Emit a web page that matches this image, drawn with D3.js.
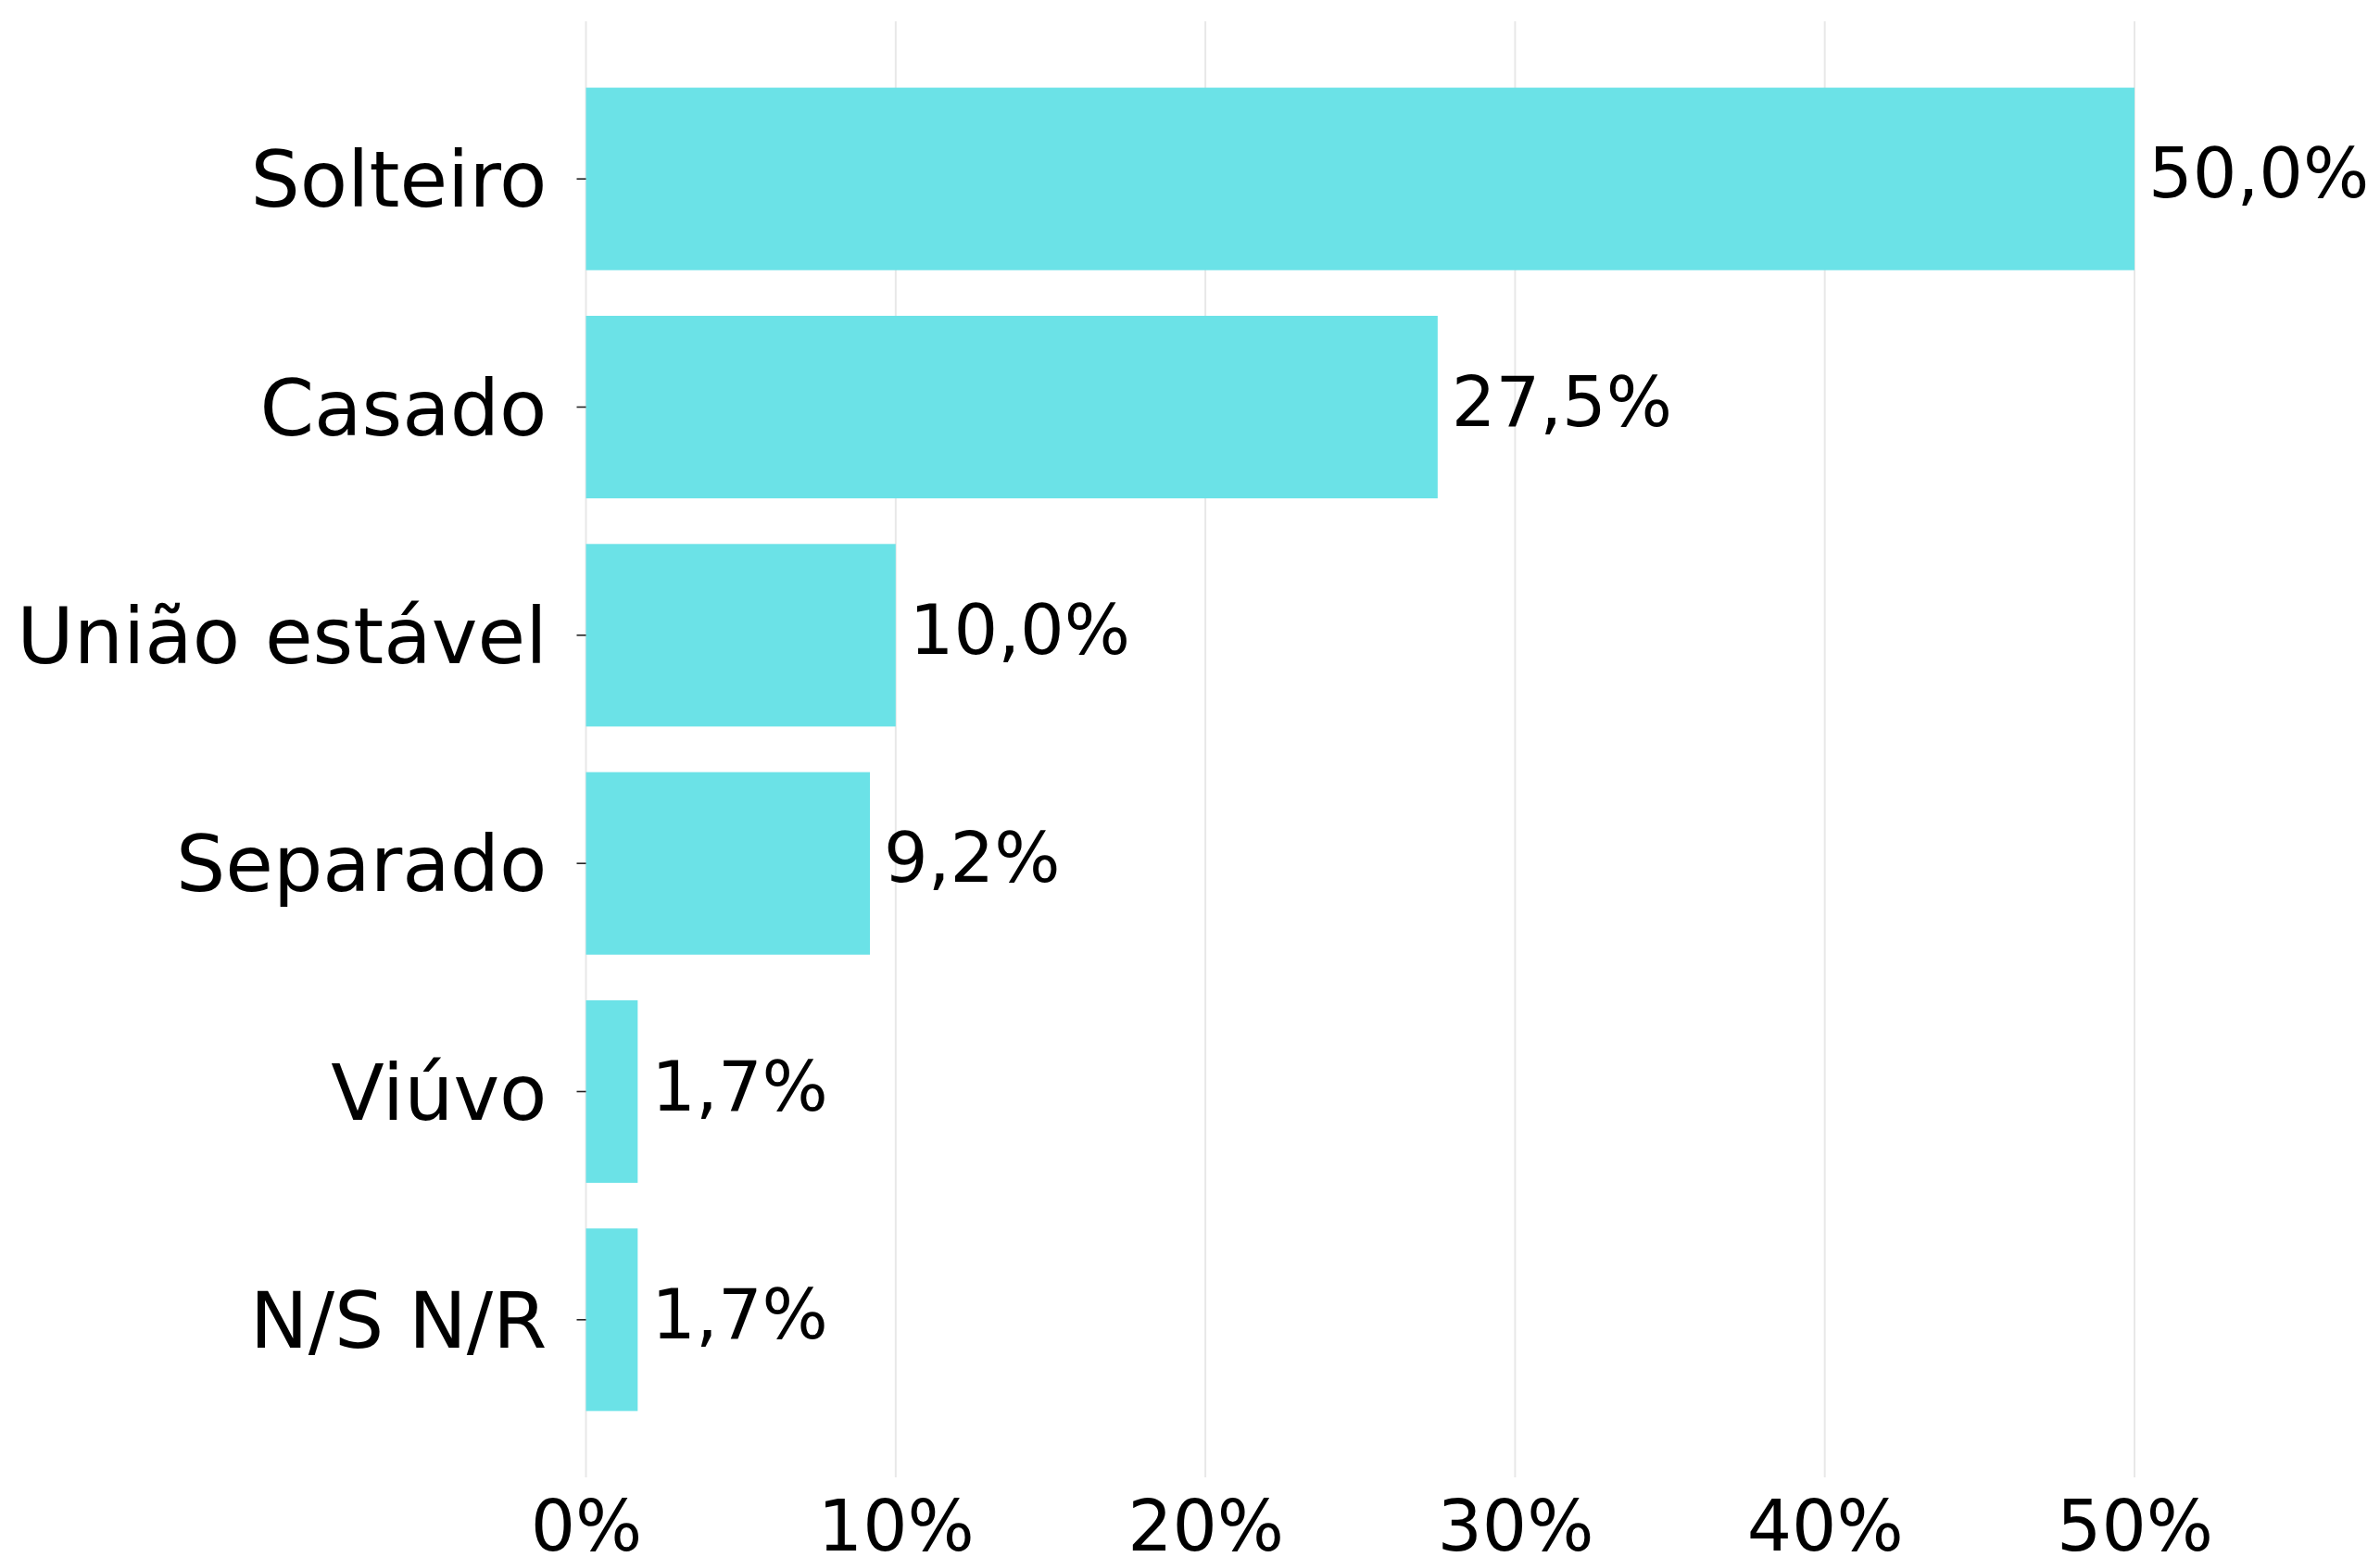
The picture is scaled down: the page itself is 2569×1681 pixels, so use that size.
<!DOCTYPE html>
<html>
<head>
<meta charset="utf-8">
<script src="https://cdn.jsdelivr.net/npm/d3@7"></script>
<style>
  html, body { margin: 0; padding: 0; background: #ffffff; }
  svg { display: block; }
  text { font-family: "DejaVu Sans", sans-serif; fill: #000; }
</style>
</head>
<body>
<svg id="chart" width="2569" height="1681"></svg>
<script>
const categories = ["Solteiro", "Casado", "União estável", "Separado", "Viúvo", "N/S N/R"];
const values = [50.0, 27.5, 10.0, 9.17, 1.67, 1.67];
const valueLabels = ["50,0%", "27,5%", "10,0%", "9,2%", "1,7%", "1,7%"];
const xTicks = [0, 10, 20, 30, 40, 50];
const xTickLabels = ["0%", "10%", "20%", "30%", "40%", "50%"];

const svg = d3.select("#chart");
const x0 = 632.5, pxPerUnit = 33.43;
const x = d3.scaleLinear().domain([0, 55]).range([x0, x0 + 55 * pxPerUnit]);
const y = d3.scaleBand().domain(categories).range([70, 1548]).paddingInner(0.2).paddingOuter(0.1);
const gridTop = 23, gridBottom = 1595;

// gridlines
svg.append("g").selectAll("line").data(xTicks).join("line")
  .attr("x1", d => x(d)).attr("x2", d => x(d))
  .attr("y1", gridTop).attr("y2", gridBottom)
  .attr("stroke", "#e8e8e8").attr("stroke-width", 2);

// bars
svg.append("g").selectAll("rect").data(categories).join("rect")
  .attr("x", x(0))
  .attr("y", d => y(d))
  .attr("width", (d, i) => x(values[i]) - x(0))
  .attr("height", y.bandwidth())
  .attr("fill", "#6be2e7");

// value labels
svg.append("g").selectAll("text").data(categories).join("text")
  .attr("x", (d, i) => x(values[i]) + 15)
  .attr("y", d => y(d) + y.bandwidth() / 2)
  .attr("dy", "0.27em")
  .attr("font-size", 75)
  .text((d, i) => valueLabels[i]);

// y axis
const yAxis = d3.axisLeft(y).tickSize(10).tickPadding(32);
const gy = svg.append("g").attr("transform", `translate(${x0},0)`).call(yAxis);
gy.select(".domain").remove();
gy.selectAll(".tick line").attr("stroke", "#222").attr("stroke-width", 1.6);
gy.selectAll(".tick text")
  .attr("font-size", 84)
  .attr("font-family", "DejaVu Sans")
  .attr("fill", "#000")
  .attr("dy", "0.36em");

// x axis
const xAxis = d3.axisBottom(x).tickValues(xTicks).tickSize(0).tickPadding(0)
  .tickFormat((d, i) => xTickLabels[i]);
const gx = svg.append("g").call(xAxis);
gx.select(".domain").remove();
gx.selectAll(".tick text")
  .attr("font-size", 76)
  .attr("font-family", "DejaVu Sans")
  .attr("fill", "#000")
  .attr("y", 1674)
  .attr("dy", 0);
</script>
</body>
</html>
